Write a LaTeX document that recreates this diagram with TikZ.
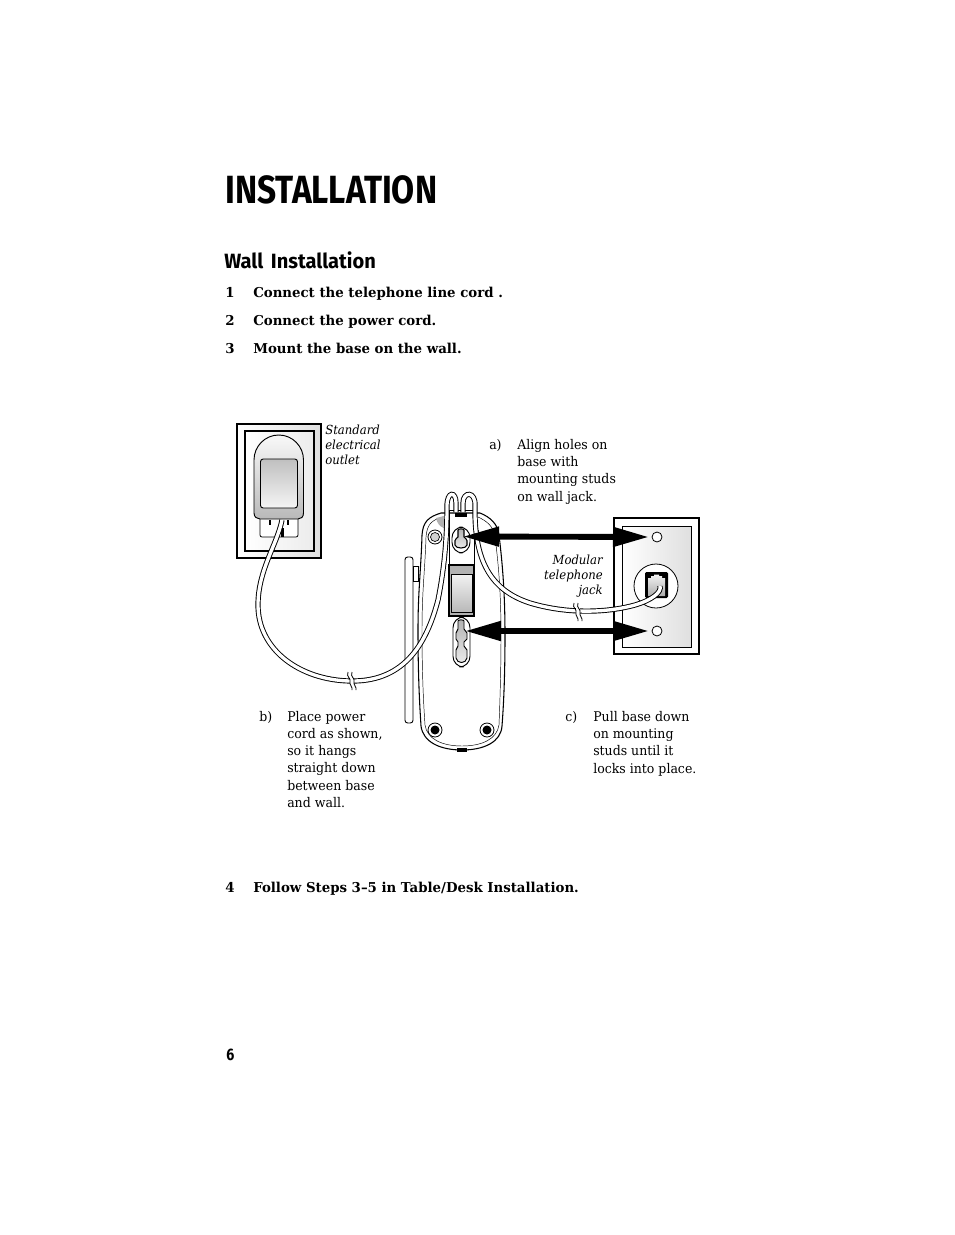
\documentclass[tikz,border=0pt]{standalone}
\usepackage{fontspec}
\setmainfont{DejaVu Serif}[FakeStretch=0.94,BoldFeatures={FakeStretch=0.98},ItalicFeatures={FakeStretch=0.93}]
\newfontfamily\headfont{Fira Sans}[FakeStretch=0.85]
\newfontfamily\subfont{Fira Sans}[FakeStretch=0.97,WordSpace=1.6]
\usetikzlibrary{arrows.meta}
\begin{document}
\begin{tikzpicture}[x=0.75pt,y=-0.75pt,
	txt/.style={anchor=base west,inner sep=0pt,font=\fontsize{10}{12}\selectfont},
	steptxt/.style={anchor=base west,inner sep=0pt,font=\fontsize{10.2}{12}\selectfont\bfseries},
	note/.style={anchor=base west,inner sep=0pt,font=\fontsize{9.4}{12}\selectfont\itshape},
	noter/.style={note,anchor=base east},
	arrow/.style={line width=4.4pt,{Triangle[length=27pt,width=14pt]}-{Triangle[length=27pt,width=14pt]}},
	foot/.style={draw,line width=0.6pt,fill=white},
	cordout/.style={line width=3.9pt,black},
	cordin/.style={line width=2.5pt,white}]
	\useasboundingbox (0,0) rectangle (954,1235);
	% headings
	\node[anchor=base west,inner sep=0pt,font=\headfont\bfseries\fontsize{29.5}{30}\selectfont] (title) at (225,203) {INSTALLATION};
	\node[anchor=base west,inner sep=0pt,font=\subfont\bfseries\fontsize{15.5}{16}\selectfont] (sub) at (224,268) {Wall Installation};
	\foreach \ten/\nhan/\vtri in {s1/1/297,s2/2/325,s3/3/353,s4/4/892}
	\node[steptxt] (\ten) at (225,\vtri) {\nhan};
	\foreach \ten/\nhan/\vtri in {t1/Connect the telephone line cord ./297,t2/Connect the power cord./325,t3/Mount the base on the wall./353,t4/Follow Steps 3--5 in Table\slash Desk Installation./892}
	\node[steptxt] (\ten) at (253,\vtri) {\nhan};
	\node[anchor=base west,inner sep=0pt,font=\headfont\bfseries\fontsize{12.5}{14}\selectfont] (page) at (226,1060) {6};
	% outlet and adapter
	\draw[line width=0.9pt,left color=white,right color=gray!25] (237,424) rectangle (321,558);
	\draw[line width=0.9pt,left color=white,right color=gray!15] (245,431) rectangle (314,551);
	\draw[line width=0.6pt,fill=white,rounded corners=1.5pt] (260,515) rectangle (298,537);
	\draw[line width=0.7pt,top color=gray!5,bottom color=gray!55] (254,513) -- (254,460) arc[start angle=180,end angle=360,x radius=24.75,y radius=25] -- (303.5,513) .. controls (303.5,517) and (301,519) .. (298,519) -- (260,519) .. controls (257,519) and (254,517) .. cycle;
	\draw[line width=0.7pt,top color=gray!50,bottom color=gray!8,rounded corners=2pt] (260.5,459) rectangle (297.5,508);
	\foreach \vtri in {270,288} \fill (\vtri-1,520) rectangle (\vtri+1,525);
	\fill (281,528) rectangle (284,537);
	% base of the phone
	\draw[line width=0.7pt,rounded corners=2pt,fill=white] (405,557) rectangle (413,723);
	\draw[line width=0.7pt,fill=white] (413,566) rectangle (418,581);
	\draw[line width=0.8pt,fill=white] (441,513) .. controls (428,517) and (423,522) .. (422,535) .. controls (421,570) and (418,590) .. (418,630) .. controls (418,680) and (420,710) .. (421,726) .. controls (423,742) and (440,750) .. (462,750) .. controls (484,750) and (501,742) .. (502,726) .. controls (504,700) and (505,670) .. (505,635) .. controls (505,590) and (502,560) .. (499,535) .. controls (498,524) and (490,517) .. (480,513) -- cycle;
	\draw[line width=0.35pt] (443,517) .. controls (431,520) and (427,525) .. (426,537) .. controls (425,570) and (422,590) .. (422,630) .. controls (422,680) and (424,710) .. (425,725) .. controls (427,739) and (442,746) .. (462,746) .. controls (482,746) and (497,739) .. (499,725) .. controls (500,700) and (501,670) .. (501,635) .. controls (501,590) and (498,560) .. (495,537) .. controls (494,527) and (487,521) .. (478,517);
	\fill[gray!60] (436,518) .. controls (437,523) and (440,527) .. (444,528) -- (444,516) -- cycle;
	\fill (455,513) rectangle (467,517);
	\fill (457,748) rectangle (467,752);
	\draw[line width=0.5pt] (449,510) -- (449,565) (474,510) -- (474,565) (449,510) -- (474,510);
	\foreach \vtri in {446,477} \draw[line width=0.4pt,fill=white] (\vtri,531) circle (1.8);
	\foreach \ten/\cx/\cy in {f1/435/537,f2/435/730,f3/487/730} {
		\draw[foot] (\cx,\cy) circle (7);
		\coordinate (\ten) at (\cx,\cy);
	}
	\draw[line width=0.5pt,fill=gray!35] (f1) circle (4.5);
	\fill (f2) circle (4.5);
	\fill (f3) circle (4.5);
	% battery door
	\draw[line width=0.8pt,fill=gray!60] (449,565) rectangle (474,616);
	\draw[line width=0.7pt,top color=gray!10,bottom color=gray!55] (451,574) rectangle (472,612);
	% slots in the base
	\draw[line width=0.7pt,fill=white,rounded corners=8pt] (452,527) rectangle (470,553);
	\draw[line width=0.8pt,top color=gray!60,bottom color=gray!15] (458,530) .. controls (458,528.5) and (464,528.5) .. (464,530) -- (464,537) .. controls (467,539) and (468,542) .. (467,545) .. controls (466,549) and (456,549) .. (455,545) .. controls (454,542) and (455,539) .. (458,537) -- cycle;
	\draw[line width=0.7pt,fill=white,rounded corners=8pt] (453,617) rectangle (470,667);
	\draw[line width=0.7pt,top color=gray!60,bottom color=gray!15] (458,621) .. controls (458,619.5) and (464,619.5) .. (464,621) -- (464,629) -- (467,633) -- (467,639) -- (464,642) -- (464,646) -- (467,650) -- (467,658) .. controls (466,664) and (457,664) .. (456,658) -- (456,650) -- (458,646) -- (458,642) -- (456,639) -- (456,633) -- (458,629) -- cycle;
	% wall jack
	\draw[line width=0.8pt,fill=white] (614,518) rectangle (699,654);
	\draw[line width=0.5pt,left color=white,right color=gray!25] (622,526) rectangle (691,647);
	\coordinate (holeA) at (657,537);
	\coordinate (holeB) at (657,631);
	\coordinate (jack) at (656,586);
	\foreach \vtri in {holeA,holeB} \draw[line width=0.6pt,fill=white] (\vtri) circle (5);
	\draw[line width=0.6pt,fill=white] (jack) circle (22);
	\fill[rounded corners=1pt] (645,572) rectangle (668,598);
	\fill[top color=gray!10,bottom color=gray!65] (648,584) -- (648,578) -- (651,578) -- (651,576) -- (654,576) -- (654,574.5) -- (659,574.5) -- (659,576) -- (662,576) -- (662,578) -- (665,578) -- (665,596) -- (648,596) -- cycle;
	% cords
	\coordinate (plug) at (282,520);
	\coordinate (loopA) at (456,512);
	\coordinate (loopB) at (463,512);
	\coordinate (jackEnd) at (660,586);
	\foreach \kieu in {cordout,cordin} {
		\draw[\kieu] (plug) .. controls (277,545) and (258,570) .. (258,605) .. controls (258,650) and (300,680) .. (350,681) .. controls (400,682) and (425,650) .. (438,600) .. controls (444,570) and (447,540) .. (447,506) .. controls (447,491) and (456,491) .. (456,503) -- (loopA);
		\draw[\kieu] (loopB) -- (463,503) .. controls (463,491) and (476,491) .. (475,506) .. controls (474,560) and (490,590) .. (530,603) .. controls (570,615) and (610,612) .. (635,605) .. controls (652,600) and (662,592) .. (jackEnd);
	}
	% breaks in the cords
	\foreach \ten/\cx/\cy in {br1/352/681,br2/578/612} {
		\coordinate (\ten) at (\cx,\cy);
		\fill[white] (\cx-2,\cy-5) rectangle (\cx+2,\cy+5);
		\draw[line width=0.6pt] (\cx-4,\cy-9) .. controls (\cx-6,\cy-4) and (\cx-1,\cy-3) .. (\cx-2,\cy) .. controls (\cx-3,\cy+4) and (\cx+1,\cy+6) .. (\cx,\cy+9);
		\draw[line width=0.6pt] (\cx,\cy-9) .. controls (\cx-2,\cy-4) and (\cx+3,\cy-3) .. (\cx+2,\cy) .. controls (\cx+1,\cy+4) and (\cx+5,\cy+6) .. (\cx+4,\cy+9);
	}
	% arrows
	\coordinate (arA) at (463,536.5);
	\coordinate (arB) at (465,631);
	\coordinate (tipA) at ([xshift=-8*0.75pt]holeA);
	\coordinate (tipB) at ([xshift=-8*0.75pt]holeB);
	\draw[arrow] (arA)--(tipA);
	\draw[arrow] (arB)--(tipB);
	% texts
	\foreach \ten/\nhan/\vtri in {o1/Standard/434,o2/electrical/449,o3/outlet/464}
	\node[note] (\ten) at (325,\vtri) {\nhan};
	\foreach \ten/\nhan/\vtri in {m1/Modular/564,m2/telephone/579,m3/jack/594}
	\node[noter] (\ten) at (603,\vtri) {\nhan};
	\foreach \ten/\nhan/\cx/\cy in {la/a)/489/449,lb/b)/259/721,lc/c)/565/721}
	\node[txt] (\ten) at (\cx,\cy) {\nhan};
	\foreach \ten/\nhan/\vtri in {a1/Align holes on/449,a2/base with/466,a3/mounting studs/483,a4/on wall jack./501}
	\node[txt] (\ten) at (517,\vtri) {\nhan};
	\foreach \ten/\nhan/\vtri in {b1/Place power/721,b2/{cord as shown,}/738,b3/{so it hangs}/755,b4/straight down/772,b5/between base/790,b6/and wall./807}
	\node[txt] (\ten) at (287,\vtri) {\nhan};
	\foreach \ten/\nhan/\vtri in {c1/Pull base down/721,c2/on mounting/738,c3/studs until it/755,c4/locks into place./773}
	\node[txt] (\ten) at (593,\vtri) {\nhan};
\end{tikzpicture}
\end{document}
